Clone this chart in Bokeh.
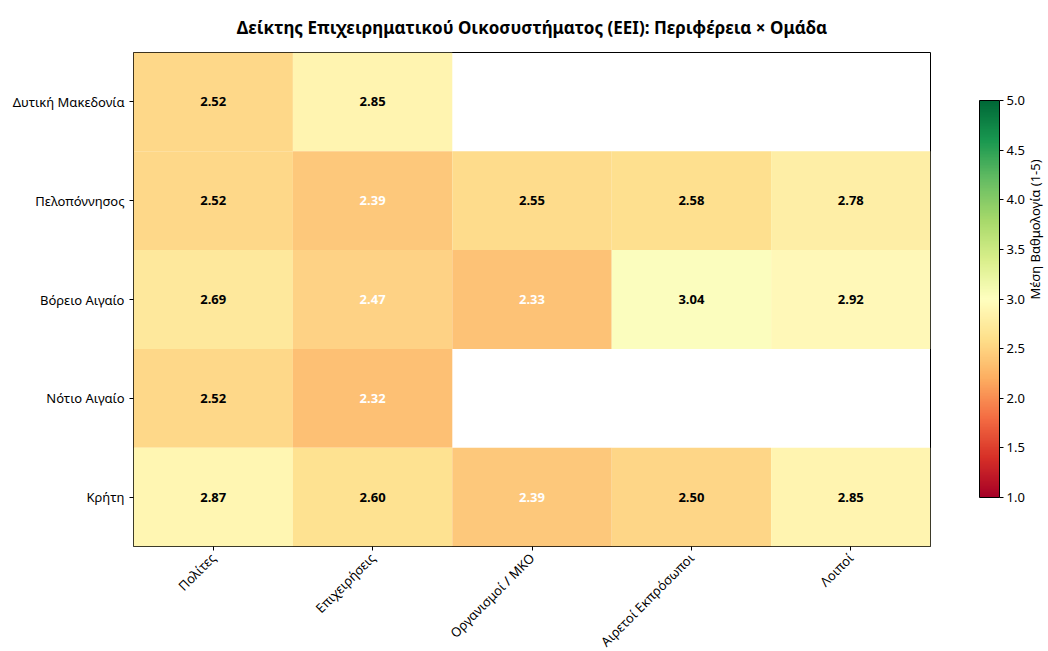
import numpy as np
from bokeh.plotting import figure
from bokeh.models import (ColumnDataSource, LinearColorMapper, FixedTicker,
                          NumeralTickFormatter, Title, ColorBar, CategoricalAxis,
                          FactorRange)
from bokeh.core.properties import value
from bokeh.embed import file_html
from bokeh.resources import INLINE

regions = ["Δυτική Μακεδονία", "Πελοπόννησος", "Βόρειο Αιγαίο", "Νότιο Αιγαίο", "Κρήτη"]
groups = ["Πολίτες", "Επιχειρήσεις", "Οργανισμοί / ΜΚΟ", "Αιρετοί Εκπρόσωποι", "Λοιποί"]
vals_dytiki_makedonia = [2.52, 2.85, None, None, None]
vals_peloponnisos = [2.52, 2.39, 2.55, 2.58, 2.78]
vals_voreio_aigaio = [2.69, 2.47, 2.33, 3.04, 2.92]
vals_notio_aigaio = [2.52, 2.32, None, None, None]
vals_kriti = [2.87, 2.60, 2.39, 2.50, 2.85]
cbar_ticks = [1.0, 1.5, 2.0, 2.5, 3.0, 3.5, 4.0, 4.5, 5.0]

title_text = "Δείκτης Επιχειρηματικού Οικοσυστήματος (EEI): Περιφέρεια × Ομάδα"
cbar_label = "Μέση Βαθμολογία (1-5)"

FONT = "Noto Sans"

# RdYlGn palette (colorbrewer anchors) interpolated to 256
anchors = ["#a50026", "#d73027", "#f46d43", "#fdae61", "#fee08b", "#ffffbf",
           "#d9ef8b", "#a6d96a", "#66bd63", "#1a9850", "#006837"]
arr = np.array([[int(h[i:i + 2], 16) for i in (1, 3, 5)] for h in anchors], float)
xs = np.linspace(0, 1, len(anchors))
tt = np.linspace(0, 1, 256)
pal = []
for t in tt:
    c = [np.interp(t, xs, arr[:, k]) for k in range(3)]
    pal.append("#%02x%02x%02x" % tuple(int(round(v)) for v in c))
mapper = LinearColorMapper(palette=pal, low=1, high=5)

all_vals = [vals_dytiki_makedonia, vals_peloponnisos, vals_voreio_aigaio,
            vals_notio_aigaio, vals_kriti]
xc, yc, vv, tx, tc = [], [], [], [], []
for r, vals in zip(regions, all_vals):
    for g, v in zip(groups, vals):
        if v is None:
            continue
        xc.append(g); yc.append(r); vv.append(v)
        tx.append("%.2f" % v)
        tc.append("white" if v < 2.5 else "black")
src = ColumnDataSource(dict(x=xc, y=yc, v=vv, t=tx, c=tc))

p = figure(x_range=groups, y_range=list(reversed(regions)),
           frame_width=797, frame_height=494,
           output_backend="svg", toolbar_location=None,
           min_border_left=133, min_border_right=5, min_border_top=10,
           min_border_bottom=10)
p.title = Title(text=title_text, align="center", text_font=FONT,
                text_font_size="17px", text_font_style="bold", standoff=27,
                text_color="black")
p.rect(x="x", y="y", width=1, height=1, source=src,
       fill_color={"field": "v", "transform": mapper}, fill_alpha=0.95,
       line_color=None)
p.text(x="x", y="y", text="t", source=src, text_color="c",
       text_align="center", text_baseline="middle",
       text_font=value(FONT), text_font_size="13px", text_font_style="bold")
p.xgrid.visible = False
p.ygrid.visible = False
p.outline_line_color = "black"
p.outline_line_width = 1
p.outline_line_alpha = 1
p.background_fill_color = "white"
for ax in (p.xaxis[0], p.yaxis[0]):
    ax.axis_line_color = None
    ax.major_tick_line_color = "black"
    ax.major_tick_out = 4
    ax.major_tick_in = 0
    ax.minor_tick_line_color = None
    ax.major_label_text_font = FONT
    ax.major_label_text_font_size = "13px"
    ax.major_label_text_color = "black"
    ax.major_label_standoff = 5
p.xaxis.major_label_orientation = np.pi / 4
p.x_range.range_padding = 0
p.y_range.range_padding = 0

cbar = ColorBar(color_mapper=mapper, width=20, height=397,
                location=(49, 49), margin=0, padding=0,
                ticker=FixedTicker(ticks=cbar_ticks),
                formatter=NumeralTickFormatter(format="0.0"),
                major_tick_out=4, major_tick_in=0,
                major_tick_line_color="black",
                minor_tick_line_color=None,
                bar_line_color="black", bar_line_width=1,
                major_label_text_font=FONT,
                major_label_text_font_size="13px",
                major_label_text_color="black",
                label_standoff=3,
                background_fill_alpha=0, border_line_color=None)
p.add_layout(cbar, "right")

p.extra_y_ranges = {"cb": FactorRange(factors=[" "])}
lab_ax = CategoricalAxis(y_range_name="cb",
                         axis_line_color=None, major_tick_line_color=None,
                         minor_tick_line_color=None,
                         major_tick_out=0, major_tick_in=0,
                         major_label_standoff=0,
                         major_label_text_font_size="1px",
                         axis_label=cbar_label, axis_label_text_font=FONT,
                         axis_label_text_font_size="13px",
                         axis_label_text_font_style="normal",
                         axis_label_text_color="black",
                         axis_label_text_align="center",
                         axis_label_text_baseline="middle",
                         axis_label_standoff=4,
                         axis_label_orientation=np.pi / 2)
p.add_layout(lab_ax, "right")

open("out.html", "w").write(file_html(p, INLINE))
